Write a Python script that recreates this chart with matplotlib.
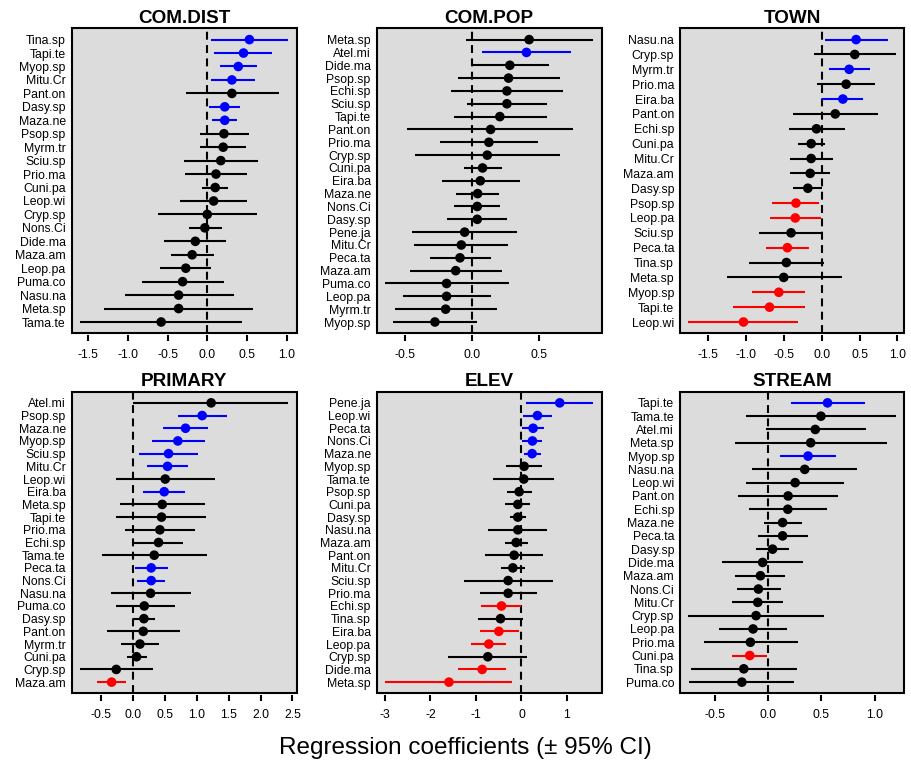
import matplotlib
matplotlib.use("Agg")
import matplotlib.pyplot as plt
from matplotlib.patches import Rectangle
import numpy as np

plt.rcParams['font.family'] = ['Liberation Sans', 'DejaVu Sans']

# COM.DIST
comdist_sp = ["Tina.sp", "Tapi.te", "Myop.sp", "Mitu.Cr", "Pant.on", "Dasy.sp", "Maza.ne",
              "Psop.sp", "Myrm.tr", "Sciu.sp", "Prio.ma", "Cuni.pa", "Leop.wi", "Cryp.sp",
              "Nons.Ci", "Dide.ma", "Maza.am", "Leop.pa", "Puma.co", "Nasu.na", "Meta.sp", "Tama.te"]
comdist_est = [0.53, 0.456, 0.39, 0.31, 0.31, 0.22, 0.22, 0.21, 0.20, 0.17, 0.11, 0.10, 0.08, 0.0,
               -0.03, -0.15, -0.19, -0.27, -0.31, -0.36, -0.36, -0.58]
comdist_lo = [0.046, 0.088, 0.16, 0.046, -0.27, 0.025, 0.06, -0.09, -0.09, -0.29, -0.28, -0.06,
              -0.34, -0.62, -0.23, -0.54, -0.46, -0.59, -0.82, -1.03, -1.30, -1.60]
comdist_hi = [1.02, 0.82, 0.63, 0.60, 0.90, 0.41, 0.38, 0.52, 0.49, 0.64, 0.50, 0.26, 0.50, 0.62,
              0.18, 0.24, 0.08, 0.05, 0.21, 0.34, 0.58, 0.44]
comdist_ticks = ["-1.5", "-1.0", "-0.5", "0.0", "0.5", "1.0"]

# COM.POP
compop_sp = ["Meta.sp", "Atel.mi", "Dide.ma", "Psop.sp", "Echi.sp", "Sciu.sp", "Tapi.te", "Pant.on",
             "Prio.ma", "Cryp.sp", "Cuni.pa", "Eira.ba", "Maza.ne", "Nons.Ci", "Dasy.sp", "Pene.ja",
             "Mitu.Cr", "Peca.ta", "Maza.am", "Puma.co", "Leop.pa", "Myrm.tr", "Myop.sp"]
compop_est = [0.425, 0.405, 0.281, 0.271, 0.259, 0.259, 0.206, 0.137, 0.124, 0.112, 0.077, 0.060,
              0.040, 0.037, 0.037, -0.057, -0.082, -0.092, -0.124, -0.192, -0.192, -0.199, -0.279]
compop_lo = [-0.047, 0.075, -0.005, -0.104, -0.157, -0.042, -0.139, -0.485, -0.244, -0.430, -0.062,
             -0.226, -0.122, -0.134, -0.187, -0.448, -0.433, -0.318, -0.463, -0.652, -0.517, -0.575, -0.592]
compop_hi = [0.905, 0.739, 0.572, 0.654, 0.679, 0.560, 0.555, 0.756, 0.490, 0.654, 0.221, 0.356,
             0.201, 0.209, 0.261, 0.336, 0.269, 0.137, 0.221, 0.276, 0.142, 0.184, 0.032]
compop_ticks = ["-0.5", "0.0", "0.5"]

# TOWN
town_sp = ["Nasu.na", "Cryp.sp", "Myrm.tr", "Prio.ma", "Eira.ba", "Pant.on", "Echi.sp", "Cuni.pa",
           "Mitu.Cr", "Maza.am", "Dasy.sp", "Psop.sp", "Leop.pa", "Sciu.sp", "Peca.ta", "Tina.sp",
           "Meta.sp", "Myop.sp", "Tapi.te", "Leop.wi"]
town_est = [0.455, 0.437, 0.363, 0.323, 0.280, 0.179, -0.070, -0.140, -0.140, -0.153, -0.184,
            -0.341, -0.350, -0.406, -0.455, -0.468, -0.503, -0.568, -0.691, -1.036]
town_lo = [0.048, -0.10, 0.096, -0.057, 0.009, -0.385, -0.437, -0.315, -0.415, -0.415, -0.380,
           -0.664, -0.691, -0.826, -0.739, -0.966, -1.259, -0.918, -1.171, -1.766]
town_hi = [0.874, 0.979, 0.642, 0.699, 0.551, 0.739, 0.302, 0.048, 0.144, 0.114, 0.002,
           -0.035, -0.013, 0.009, -0.166, 0.035, 0.262, -0.223, -0.219, -0.310]
town_ticks = ["-1.5", "-1.0", "-0.5", "0.0", "0.5", "1.0"]

# PRIMARY
primary_sp = ["Atel.mi", "Psop.sp", "Maza.ne", "Myop.sp", "Sciu.sp", "Mitu.Cr", "Leop.wi", "Eira.ba",
              "Meta.sp", "Tapi.te", "Prio.ma", "Echi.sp", "Tama.te", "Peca.ta", "Nons.Ci", "Nasu.na",
              "Puma.co", "Dasy.sp", "Pant.on", "Myrm.tr", "Cuni.pa", "Cryp.sp", "Maza.am"]
primary_est = [1.223, 1.082, 0.821, 0.700, 0.554, 0.538, 0.502, 0.486, 0.455, 0.444, 0.418, 0.397,
               0.329, 0.282, 0.282, 0.272, 0.173, 0.167, 0.157, 0.105, 0.052, -0.267, -0.340]
primary_lo = [-0.003, 0.700, 0.470, 0.288, 0.094, 0.220, -0.277, 0.157, -0.204, -0.277, -0.131,
              -0.002, -0.486, 0.026, 0.058, -0.350, -0.277, -0.002, -0.408, -0.188, -0.094, -0.836, -0.565]
primary_hi = [2.436, 1.479, 1.166, 1.119, 1.014, 0.857, 1.281, 0.810, 1.119, 1.150, 0.967, 0.784,
              1.160, 0.549, 0.502, 0.910, 0.648, 0.335, 0.727, 0.397, 0.220, 0.303, -0.115]
primary_ticks = ["-0.5", "0.0", "0.5", "1.0", "1.5", "2.0", "2.5"]

# ELEV
elev_sp = ["Pene.ja", "Leop.wi", "Peca.ta", "Nons.Ci", "Maza.ne", "Myop.sp", "Tama.te", "Psop.sp",
           "Cuni.pa", "Dasy.sp", "Nasu.na", "Maza.am", "Pant.on", "Mitu.Cr", "Sciu.sp", "Prio.ma",
           "Echi.sp", "Tina.sp", "Eira.ba", "Leop.pa", "Cryp.sp", "Dide.ma", "Meta.sp"]
elev_est = [0.841, 0.351, 0.256, 0.241, 0.234, 0.058, 0.051, -0.051, -0.080, -0.080, -0.080, -0.117,
            -0.161, -0.190, -0.293, -0.293, -0.439, -0.461, -0.497, -0.717, -0.739, -0.863, -1.594]
elev_lo = [0.102, 0.044, 0.015, 0.022, 0.058, -0.344, -0.629, -0.314, -0.351, -0.256, -0.731, -0.366,
           -0.797, -0.453, -1.272, -0.921, -0.892, -0.965, -0.921, -1.104, -1.623, -1.389, -2.998]
elev_hi = [1.580, 0.665, 0.497, 0.461, 0.424, 0.446, 0.717, 0.234, 0.197, 0.102, 0.563, 0.146,
           0.475, 0.073, 0.695, 0.336, -0.015, 0.037, -0.051, -0.329, 0.124, -0.344, -0.205]
elev_ticks = ["-3", "-2", "-1", "0", "1"]

# STREAM
stream_sp = ["Tapi.te", "Tama.te", "Atel.mi", "Meta.sp", "Myop.sp", "Nasu.na", "Leop.wi", "Pant.on",
             "Echi.sp", "Maza.ne", "Peca.ta", "Dasy.sp", "Dide.ma", "Maza.am", "Nons.Ci", "Mitu.Cr",
             "Cryp.sp", "Leop.pa", "Prio.ma", "Cuni.pa", "Tina.sp", "Puma.co"]
stream_est = [0.559, 0.497, 0.444, 0.401, 0.376, 0.345, 0.255, 0.189, 0.186, 0.137, 0.137, 0.043,
              -0.050, -0.071, -0.090, -0.096, -0.112, -0.140, -0.165, -0.171, -0.227, -0.245]
stream_lo = [0.217, -0.205, -0.022, -0.314, 0.112, -0.149, -0.205, -0.286, -0.177, -0.037, -0.093,
             -0.112, -0.429, -0.307, -0.295, -0.342, -0.748, -0.457, -0.602, -0.335, -0.727, -0.739]
stream_hi = [0.910, 1.199, 0.919, 1.118, 0.640, 0.832, 0.714, 0.658, 0.550, 0.320, 0.373, 0.202,
             0.329, 0.161, 0.118, 0.143, 0.525, 0.180, 0.280, -0.012, 0.273, 0.248]
stream_ticks = ["-0.5", "0.0", "0.5", "1.0"]

panels = [
    ("COM.DIST", comdist_sp, comdist_est, comdist_lo, comdist_hi, comdist_ticks),
    ("COM.POP", compop_sp, compop_est, compop_lo, compop_hi, compop_ticks),
    ("TOWN", town_sp, town_est, town_lo, town_hi, town_ticks),
    ("PRIMARY", primary_sp, primary_est, primary_lo, primary_hi, primary_ticks),
    ("ELEV", elev_sp, elev_est, elev_lo, elev_hi, elev_ticks),
    ("STREAM", stream_sp, stream_est, stream_lo, stream_hi, stream_ticks),
]

W, H = 912, 765
fig = plt.figure(figsize=(W / 100, H / 100), dpi=100)

# panel boxes in pixels: left, top, right, bottom
lefts = [71.7, 376.7, 680.0]
rights = [296.7, 601.7, 904.0]
rows = [(28.3, 333.3), (391.7, 693.3)]

for i, (title, sp, est, lo, hi, ticks) in enumerate(panels):
    r, c = divmod(i, 3)
    top, bot = rows[r]
    ax = fig.add_axes([lefts[c] / W, (H - bot) / H, (rights[c] - lefts[c]) / W, (bot - top) / H])

    est, lo, hi = np.array(est), np.array(lo), np.array(hi)
    n = len(sp)
    y = np.arange(n, 0, -1)
    cols = np.where(lo > 0, "blue", np.where(hi < 0, "red", "black"))

    ax.set_facecolor("#dcdcdc")
    ax.axvline(0, color="black", lw=1.5, dashes=(3.8, 2.6), zorder=1)
    ax.hlines(y, lo, hi, colors=cols, lw=1.5, zorder=2)
    ax.scatter(est, y, c=cols, s=48, linewidths=0, zorder=3)

    rng = hi.max() - lo.min()
    ax.set_xlim(lo.min() - 0.04 * rng, hi.max() + 0.04 * rng)
    ax.set_ylim(1 - 0.04 * (n - 1), n + 0.04 * (n - 1))

    ax.set_yticks(y)
    ax.set_yticklabels(sp)
    ax.set_xticks([float(t) for t in ticks])
    ax.set_xticklabels(ticks)
    ax.tick_params(axis="y", length=0, pad=4.3, labelsize=8.8)
    ax.tick_params(axis="x", direction="out", length=4.1, width=1.5, pad=5.5, labelsize=8.8)

    for s in ax.spines.values():
        s.set_visible(False)
    ax.spines["bottom"].set_position(("outward", 1.5))
    ax.add_patch(Rectangle((0, 0), 1, 1, transform=ax.transAxes, fill=False,
                           lw=1.5, edgecolor="black", clip_on=False, zorder=5))

    ax.set_title(title, fontsize=13.6, fontweight="bold", pad=4)

fig.text(0.51, 0.022, "Regression coefficients (\u00b1 95% CI)", ha="center", va="center", fontsize=17.5)

fig.savefig("out.png", dpi=100)
